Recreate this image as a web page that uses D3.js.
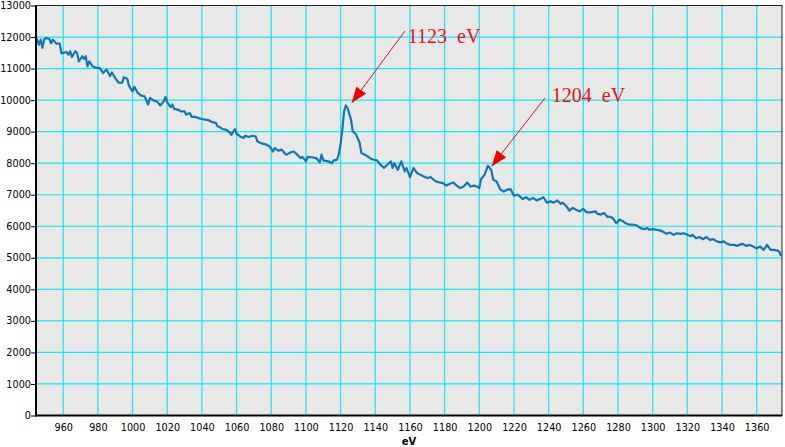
<!DOCTYPE html>
<html>
<head>
<meta charset="utf-8">
<script src="https://cdn.jsdelivr.net/npm/d3@7"></script>
<style>
  body { margin: 0; background: #fff; }
  svg { display: block; }
</style>
</head>
<body>
<div id="vis"></div>
<script>
const FRAME_WIDTH = 785;
const FRAME_HEIGHT = 447;
const MARGINS = {left: 36, right: 3, top: 5.5, bottom: 31.5};

// spectrum (eV, counts)
const energy = [944, 946, 947, 948, 949, 950, 952, 953, 954, 956, 958, 959, 960, 962, 963, 964, 965, 967, 968, 969,
  971, 972, 973, 974, 975, 977, 979, 981, 983, 985, 987, 988, 990, 992, 994, 995, 997, 998, 1000, 1001,
  1003, 1005, 1007, 1009, 1010, 1012, 1014, 1016, 1018, 1019, 1020, 1022, 1023, 1024, 1026, 1028, 1030, 1031, 1033, 1034,
  1036, 1038, 1040, 1042, 1044, 1046, 1048, 1049, 1050, 1052, 1054, 1056, 1057, 1059, 1060, 1062, 1064, 1065, 1067, 1069,
  1071, 1072, 1074, 1075, 1077, 1079, 1081, 1082, 1084, 1086, 1088, 1089, 1091, 1093, 1095, 1097, 1098, 1100, 1101, 1104,
  1106, 1108, 1109, 1110, 1113, 1115, 1116, 1118, 1119, 1120, 1121, 1122, 1123, 1124, 1126, 1127, 1129, 1131, 1132, 1134,
  1135, 1137, 1139, 1141, 1143, 1145, 1147, 1149, 1150, 1151, 1153, 1155, 1157, 1158, 1160, 1162, 1164, 1166, 1168, 1170,
  1172, 1173, 1175, 1177, 1179, 1181, 1183, 1185, 1187, 1189, 1191, 1193, 1195, 1197, 1199, 1200, 1201, 1203, 1205, 1207,
  1208, 1210, 1212, 1214, 1216, 1218, 1220, 1222, 1224, 1225, 1227, 1229, 1231, 1233, 1235, 1237, 1239, 1241, 1243, 1245,
  1247, 1248, 1250, 1252, 1254, 1256, 1258, 1260, 1262, 1264, 1267, 1268, 1270, 1272, 1274, 1275, 1277, 1279, 1281, 1283,
  1285, 1287, 1289, 1291, 1293, 1295, 1297, 1298, 1300, 1302, 1304, 1306, 1308, 1310, 1312, 1314, 1316, 1318, 1320, 1322,
  1323, 1325, 1327, 1329, 1331, 1333, 1335, 1337, 1339, 1341, 1343, 1345, 1347, 1349, 1350, 1352, 1354, 1356, 1358, 1360,
  1362, 1364, 1366, 1368, 1370, 1372, 1373, 1374];

const counts = [12030, 11760, 11920, 11660, 11920, 11970, 11940, 11800, 11920, 11790, 11790, 11480, 11500, 11520, 11440, 11550, 11370, 11550, 11500, 11230,
  11390, 11310, 11390, 11070, 11230, 11070, 11020, 11020, 10860, 10970, 10760, 10880, 10700, 10550, 10550, 10730, 10670, 10440, 10280, 10420,
  10230, 10140, 10120, 9860, 10070, 9990, 9960, 9830, 9960, 10100, 9930, 9780, 9860, 9720, 9700, 9640, 9640, 9540, 9590, 9470,
  9470, 9430, 9400, 9380, 9360, 9300, 9280, 9170, 9150, 9080, 9060, 8980, 8900, 9080, 8940, 8850, 8800, 8870, 8830, 8870,
  8850, 8690, 8640, 8620, 8590, 8530, 8370, 8480, 8400, 8430, 8300, 8270, 8340, 8370, 8270, 8160, 8200, 8060, 8200, 8180,
  8160, 8030, 8270, 8090, 8060, 8000, 8090, 8110, 8300, 8620, 9060, 9640, 9830, 9750, 9380, 9010, 8900, 8640, 8320, 8270,
  8240, 8160, 8110, 8090, 7950, 7850, 7950, 8060, 7850, 8000, 7790, 8060, 7740, 7850, 7560, 7850, 7690, 7630, 7580, 7530,
  7560, 7500, 7420, 7390, 7370, 7290, 7350, 7390, 7290, 7210, 7260, 7390, 7260, 7290, 7250, 7210, 7500, 7630, 7920, 7770,
  7480, 7420, 7180, 7100, 7160, 7180, 6970, 7000, 6920, 6860, 6920, 6840, 6900, 6820, 6860, 6920, 6750, 6790, 6750, 6820,
  6710, 6750, 6650, 6500, 6580, 6520, 6470, 6550, 6440, 6440, 6470, 6400, 6370, 6420, 6290, 6310, 6260, 6100, 6210, 6150,
  6080, 6050, 6050, 6020, 5940, 5910, 5940, 5890, 5910, 5890, 5870, 5830, 5760, 5800, 5730, 5780, 5760, 5780, 5730, 5680,
  5730, 5620, 5660, 5590, 5660, 5570, 5590, 5520, 5490, 5520, 5440, 5410, 5410, 5380, 5410, 5440, 5380, 5410, 5360, 5300,
  5360, 5250, 5410, 5250, 5250, 5230, 5200, 5060];

const xTicks = d3.range(960, 1361, 20);
const yTicks = d3.range(0, 13001, 1000);

// peak labels: text anchor and arrow from/to, in data units
const peakLabels = ["1123  eV", "1204  eV"];
const labelAt = [[1158.8, 11825], [1241.8, 9952]];
const arrowFrom = [[1157.1, 12190], [1237.9, 10070]];
const arrowTo = [[1126.4, 9911], [1207.1, 7898]];

const VIS_WIDTH = FRAME_WIDTH - MARGINS.left - MARGINS.right;
const VIS_HEIGHT = FRAME_HEIGHT - MARGINS.top - MARGINS.bottom;

const data = energy.map((e, i) => ({x: e, y: counts[i]}));

const FRAME = d3.select("#vis")
  .append("svg")
    .attr("width", FRAME_WIDTH)
    .attr("height", FRAME_HEIGHT);

const X_SCALE = d3.scaleLinear()
  .domain([944.3, 1374.6])
  .range([MARGINS.left, MARGINS.left + VIS_WIDTH]);

const Y_SCALE = d3.scaleLinear()
  .domain([0, 13000])
  .range([MARGINS.top + VIS_HEIGHT, MARGINS.top]);

// plot background
FRAME.append("rect")
  .attr("x", MARGINS.left)
  .attr("y", MARGINS.top)
  .attr("width", VIS_WIDTH)
  .attr("height", VIS_HEIGHT)
  .attr("fill", "#e8e8e8");

// grid
FRAME.append("g")
  .selectAll("line")
  .data(xTicks)
  .enter()
  .append("line")
    .attr("x1", d => X_SCALE(d))
    .attr("x2", d => X_SCALE(d))
    .attr("y1", MARGINS.top)
    .attr("y2", MARGINS.top + VIS_HEIGHT)
    .attr("stroke", "#14e8f2")
    .attr("stroke-width", 1.2);

FRAME.append("g")
  .selectAll("line")
  .data(yTicks.slice(1, -1))
  .enter()
  .append("line")
    .attr("x1", MARGINS.left)
    .attr("x2", MARGINS.left + VIS_WIDTH)
    .attr("y1", d => Y_SCALE(d))
    .attr("y2", d => Y_SCALE(d))
    .attr("stroke", "#14e8f2")
    .attr("stroke-width", 1.2);

// clip the trace to the plot
FRAME.append("clipPath")
  .attr("id", "plotclip")
  .append("rect")
    .attr("x", MARGINS.left)
    .attr("y", MARGINS.top)
    .attr("width", VIS_WIDTH)
    .attr("height", VIS_HEIGHT);

const line = d3.line()
  .x(d => X_SCALE(d.x))
  .y(d => Y_SCALE(d.y));

FRAME.append("path")
  .datum(data)
  .attr("clip-path", "url(#plotclip)")
  .attr("d", line)
  .attr("fill", "none")
  .attr("stroke", "#1476b4")
  .attr("stroke-width", 2.2)
  .attr("stroke-linejoin", "round");

// frame top/right
FRAME.append("rect")
  .attr("x", MARGINS.left)
  .attr("y", MARGINS.top)
  .attr("width", VIS_WIDTH)
  .attr("height", VIS_HEIGHT)
  .attr("fill", "none")
  .attr("stroke", "#222")
  .attr("stroke-width", 1);

// axes
const yAxis = FRAME.append("g")
  .attr("transform", "translate(" + MARGINS.left + ",0)")
  .call(d3.axisLeft(Y_SCALE).tickValues(yTicks).tickFormat(d3.format("d")).tickSize(5).tickPadding(0));

const xAxis = FRAME.append("g")
  .attr("transform", "translate(0," + (MARGINS.top + VIS_HEIGHT) + ")")
  .call(d3.axisBottom(X_SCALE).tickValues(xTicks).tickFormat(d3.format("d")).tickSize(0).tickPadding(9));

[yAxis, xAxis].forEach(ax => {
  ax.selectAll("text")
    .attr("font-family", "'DejaVu Sans', Verdana, sans-serif")
    .attr("font-size", "9.7px")
    .attr("fill", "#000");
  ax.select(".domain").attr("stroke", "#000").attr("stroke-width", 2);
  ax.selectAll(".tick line").attr("stroke", "#000");
});
xAxis.select(".domain").attr("d", "M" + MARGINS.left + ",0H" + (MARGINS.left + VIS_WIDTH));
yAxis.select(".domain").attr("d", "M0," + MARGINS.top + "V" + (MARGINS.top + VIS_HEIGHT + 1));

FRAME.append("text")
  .attr("x", MARGINS.left + VIS_WIDTH / 2)
  .attr("y", 445)
  .attr("text-anchor", "middle")
  .attr("font-family", "'DejaVu Sans', Verdana, sans-serif")
  .attr("font-size", "10px")
  .attr("font-weight", "bold")
  .text("eV");

// peak annotations
FRAME.append("defs")
  .append("marker")
    .attr("id", "arrowhead")
    .attr("markerUnits", "userSpaceOnUse")
    .attr("viewBox", "0 0 16 12")
    .attr("refX", 16)
    .attr("refY", 6)
    .attr("markerWidth", 16)
    .attr("markerHeight", 12)
    .attr("orient", "auto")
  .append("path")
    .attr("d", "M0,0L16,6L0,12Z")
    .attr("fill", "#f00000");

FRAME.append("g")
  .selectAll("line")
  .data(peakLabels)
  .enter()
  .append("line")
    .attr("x1", (d, i) => X_SCALE(arrowFrom[i][0]))
    .attr("y1", (d, i) => Y_SCALE(arrowFrom[i][1]))
    .attr("x2", (d, i) => X_SCALE(arrowTo[i][0]))
    .attr("y2", (d, i) => Y_SCALE(arrowTo[i][1]))
    .attr("stroke", "#e0101c")
    .attr("stroke-width", 1)
    .attr("marker-end", "url(#arrowhead)");

FRAME.append("g")
  .selectAll("text")
  .data(peakLabels)
  .enter()
  .append("text")
    .attr("x", (d, i) => X_SCALE(labelAt[i][0]))
    .attr("y", (d, i) => Y_SCALE(labelAt[i][1]))
    .attr("font-family", "'Liberation Serif', 'DejaVu Serif', serif")
    .attr("font-size", "20px")
    .attr("fill", "#e8101a")
    .style("white-space", "pre")
    .text(d => d);
</script>
</body>
</html>
